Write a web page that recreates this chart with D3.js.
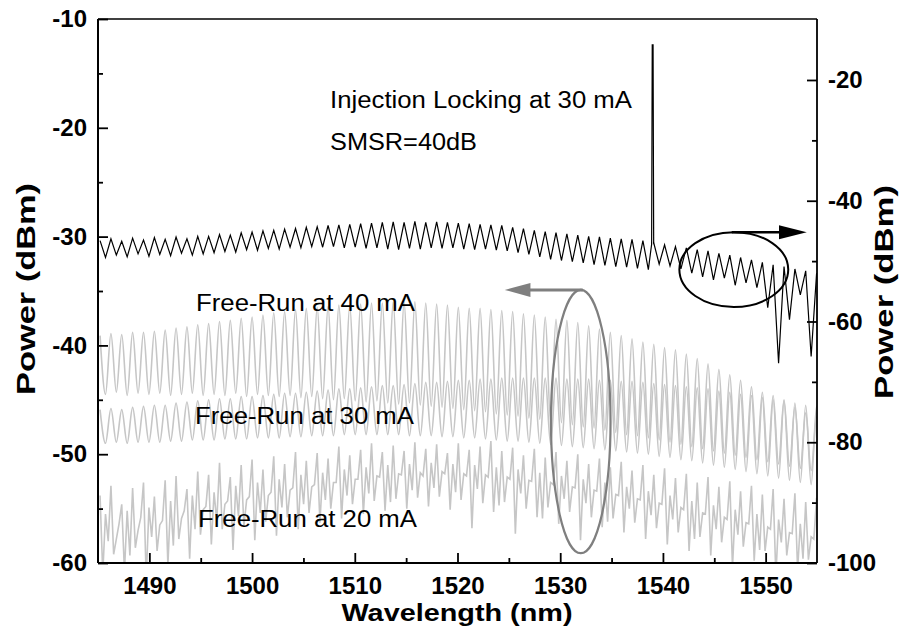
<!DOCTYPE html>
<html>
<head>
<meta charset="utf-8">
<script src="https://cdn.jsdelivr.net/npm/d3@7"></script>
<style>
  body { margin: 0; background: #fff; }
  svg text { font-family: "Liberation Sans", Arial, sans-serif; }
</style>
</head>
<body>
<svg id="chart" width="900" height="630"></svg>
<script>
// mode wavelengths of the FP laser (nm)
const modeWl = [1485.20, 1486.26, 1487.31, 1488.37, 1489.43, 1490.49, 1491.54, 1492.60, 1493.66, 1494.71,
    1495.77, 1496.83, 1497.88, 1498.94, 1500.00, 1501.06, 1502.11, 1503.17, 1504.23, 1505.28,
    1506.34, 1507.40, 1508.45, 1509.51, 1510.57, 1511.63, 1512.68, 1513.74, 1514.80, 1515.85,
    1516.91, 1517.97, 1519.02, 1520.08, 1521.14, 1522.20, 1523.25, 1524.31, 1525.37, 1526.42,
    1527.48, 1528.54, 1529.59, 1530.65, 1531.71, 1532.77, 1533.82, 1534.88, 1535.94, 1536.99,
    1538.05, 1539.11, 1540.16, 1541.22, 1542.28, 1543.34, 1544.39, 1545.45, 1546.51, 1547.56,
    1548.62, 1549.68, 1550.73, 1551.79, 1552.85, 1553.90, 1554.96];

// free-run 40 mA (left axis, dBm)
const fr40Peak = [-39.1, -38.9, -39.0, -38.8, -38.8, -38.7, -38.6, -38.4, -38.3, -38.1,
    -38.0, -37.8, -37.7, -37.5, -37.4, -37.2, -37.0, -36.9, -36.7, -36.6,
    -36.5, -36.4, -36.3, -36.3, -36.2, -36.1, -36.1, -36.0, -36.0, -36.0,
    -36.1, -36.2, -36.3, -36.5, -36.6, -36.6, -36.7, -36.8, -36.9, -37.1,
    -37.2, -37.4, -37.6, -37.7, -37.9, -38.2, -38.5, -38.8, -39.1, -39.4,
    -39.7, -39.9, -40.2, -40.4, -40.8, -41.2, -41.7, -42.2, -42.7, -43.2,
    -43.8, -44.3, -44.6, -45.0, -45.7, -46.2, -46.6];
const fr40Valley = [-44.5, -44.3, -44.6, -44.4, -44.5, -44.4, -44.6, -44.5, -44.4, -44.6,
    -44.5, -44.6, -44.4, -44.7, -44.5, -44.6, -44.7, -44.6, -44.8, -44.7,
    -44.9, -45.0, -44.9, -45.1, -45.2, -45.1, -45.3, -45.4, -45.3, -45.5,
    -45.6, -45.7, -45.8, -45.9, -46.0, -46.1, -46.3, -46.4, -46.5, -46.7,
    -46.8, -47.0, -47.1, -47.3, -47.5, -47.6, -47.8, -48.0, -48.2, -48.3,
    -48.5, -48.7, -48.9, -49.1, -49.3, -49.5, -49.7, -49.9, -50.1, -50.3,
    -50.5, -50.7, -50.9, -51.1, -51.3, -51.5, -51.7];

// free-run 30 mA (left axis, dBm)
const fr30Peak = [-45.9, -45.8, -45.9, -45.7, -45.6, -45.5, -45.5, -45.3, -45.2, -45.1,
    -45.0, -44.9, -44.9, -44.7, -44.7, -44.6, -44.5, -44.4, -44.4, -44.3,
    -44.2, -44.1, -44.0, -44.0, -43.9, -43.8, -43.7, -43.7, -43.6, -43.5,
    -43.4, -43.4, -43.3, -43.2, -43.2, -43.1, -43.1, -43.0, -43.0, -43.0,
    -43.0, -43.0, -43.0, -43.1, -43.1, -43.1, -43.2, -43.2, -43.3, -43.3,
    -43.4, -43.5, -43.6, -43.7, -43.8, -43.9, -44.0, -44.2, -44.3, -44.5,
    -44.6, -44.8, -45.0, -45.1, -45.3, -45.5, -45.6];
const fr30Valley = [-49.0, -48.9, -49.0, -48.9, -48.9, -48.9, -48.8, -48.8, -48.7, -48.7,
    -48.7, -48.6, -48.6, -48.6, -48.5, -48.5, -48.5, -48.4, -48.4, -48.3,
    -48.3, -48.3, -48.2, -48.2, -48.2, -48.2, -48.2, -48.2, -48.3, -48.3,
    -48.3, -48.4, -48.4, -48.5, -48.5, -48.6, -48.7, -48.8, -48.8, -48.9,
    -49.0, -49.1, -49.2, -49.3, -49.4, -49.5, -49.6, -49.7, -49.8, -49.9,
    -50.0, -50.2, -50.3, -50.5, -50.6, -50.8, -51.0, -51.2, -51.4, -51.6,
    -51.8, -52.0, -52.2, -52.4, -52.6, -52.8, -53.0];

// free-run 20 mA (left axis, dBm): noisy, four samples inside each mode
const fr20Peak = [-53.8, -52.9, -54.6, -53.1, -52.6, -53.9, -52.4, -52.0, -53.2, -51.6,
    -51.9, -50.8, -52.1, -51.0, -50.5, -51.4, -50.2, -50.9, -49.8, -50.6,
    -49.9, -50.4, -49.3, -50.1, -49.6, -49.0, -49.8, -49.2, -49.7, -48.9,
    -49.5, -49.1, -49.9, -49.0, -49.6, -49.3, -48.8, -49.7, -49.4, -50.1,
    -49.5, -50.3, -49.8, -50.6, -50.0, -50.9, -50.4, -51.2, -50.7, -51.5,
    -51.0, -51.9, -51.3, -52.2, -51.8, -52.6, -52.1, -53.0, -52.5, -53.4,
    -52.9, -53.7, -53.2, -54.1, -53.6, -54.4, -54.0];
const fr20Dip = [-61.0, -59.2, -60.8, -58.6, -61.5, -58.9, -60.2, -57.8, -59.6, -57.4,
    -58.3, -56.9, -58.8, -56.6, -57.9, -56.2, -57.5, -55.8, -56.9, -55.4,
    -56.3, -55.0, -55.9, -54.6, -55.5, -54.3, -55.2, -54.1, -55.0, -54.0,
    -54.8, -53.9, -55.1, -54.2, -56.8, -54.5, -55.3, -54.4, -57.3, -55.0,
    -55.8, -54.9, -56.4, -55.3, -57.9, -55.8, -56.7, -55.9, -57.2, -56.3,
    -57.8, -56.8, -58.3, -57.2, -58.9, -57.6, -59.3, -58.1, -60.4, -58.5,
    -59.8, -58.9, -61.2, -59.3, -60.6, -59.7, -61.0];
const fr20Bump = [-55.5, -57.8, -55.2, -57.0, -54.9, -56.5, -54.3, -55.9, -53.8, -55.1,
    -53.5, -54.6, -52.9, -54.2, -52.6, -53.8, -52.3, -53.3, -51.9, -53.0,
    -51.7, -52.6, -51.4, -52.3, -51.2, -52.0, -51.0, -51.8, -50.9, -51.7,
    -50.8, -51.6, -50.9, -51.8, -51.0, -51.9, -51.2, -52.1, -51.4, -52.4,
    -51.7, -52.6, -52.0, -53.0, -52.3, -53.3, -52.6, -53.7, -53.0, -54.1,
    -53.4, -54.5, -53.8, -54.9, -54.3, -55.4, -54.7, -55.8, -55.1, -56.3,
    -55.5, -56.7, -56.0, -57.2, -56.4, -57.6, -56.9];
const fr20Dip2 = [-58.0, -56.4, -59.3, -55.8, -57.6, -56.1, -58.4, -55.2, -56.9, -54.8,
    -56.2, -54.3, -55.7, -53.9, -55.4, -53.5, -54.9, -53.1, -54.6, -52.8,
    -54.2, -52.6, -53.8, -52.3, -53.6, -52.1, -54.4, -51.9, -53.3, -52.0,
    -53.1, -51.8, -53.5, -52.0, -53.2, -52.1, -54.7, -52.3, -53.6, -52.5,
    -55.9, -52.8, -54.1, -53.1, -54.5, -53.4, -56.2, -53.8, -55.0, -54.2,
    -55.6, -54.6, -56.0, -55.1, -57.8, -55.5, -56.9, -56.0, -57.4, -56.4,
    -58.8, -56.9, -58.1, -57.3, -59.6, -57.8, -58.4];

// injection locking at 30 mA (right axis, dBm)
const ilPeak = [-46.6, -46.3, -46.7, -46.2, -46.5, -46.1, -46.4, -46.0, -46.3, -45.9,
    -45.9, -45.6, -45.7, -45.3, -45.2, -45.0, -44.9, -44.7, -44.6, -44.4,
    -44.3, -44.1, -44.0, -43.9, -43.8, -43.7, -43.6, -43.5, -43.6, -43.4,
    -43.6, -43.5, -43.6, -43.7, -43.8, -43.9, -44.0, -44.1, -44.4, -44.6,
    -44.9, -45.1, -45.3, -45.5, -45.7, -45.9, -46.0, -46.2, -46.3, -46.4,
    -46.6, -47.0, -47.3, -47.6, -47.8, -48.1, -48.3, -48.7, -49.0, -49.4,
    -49.8, -50.2, -50.6, -50.9, -51.3, -51.6, -52.0];
const ilValley = [-49.4, -49.0, -49.3, -48.8, -49.2, -48.9, -49.1, -48.7, -49.0, -48.8,
    -48.6, -48.4, -48.5, -48.1, -48.2, -47.9, -48.0, -47.7, -47.8, -47.6,
    -47.7, -47.6, -47.8, -47.7, -47.9, -47.8, -48.0, -48.1, -47.9, -48.0,
    -47.8, -47.9, -47.8, -48.0, -48.1, -48.0, -48.2, -48.3, -48.6, -48.9,
    -49.3, -49.7, -49.9, -50.1, -50.3, -50.6, -50.7, -50.9, -51.0, -51.2,
    -51.4, -50.5, -50.8, -51.3, -52.0, -52.6, -53.1, -52.8, -54.0, -53.6,
    -54.4, -57.7, -66.9, -59.7, -55.6, -65.8, -56.5];
// locked mode (SMSR = 40 dB)
const spikeWl = [1538.90, 1538.96, 1539.04, 1539.10];
const spikeVal = [-47.2, -14.2, -14.2, -47.2];

const xTicks = [1490, 1500, 1510, 1520, 1530, 1540, 1550];
const xMinor = [1495, 1505, 1515, 1525, 1535, 1545];
const yLeftTicks = [-60, -50, -40, -30, -20, -10];
const yLeftMinor = [-55, -45, -35, -25, -15];
const yRightTicks = [-100, -80, -60, -40, -20];
const yRightMinor = [-90, -70, -50, -30];

const width = 900, height = 630;
const margin = { top: 19, right: 83, bottom: 67, left: 98 };

const x = d3.scaleLinear().domain([1485, 1555]).range([margin.left, width - margin.right]);
const yL = d3.scaleLinear().domain([-60, -10]).range([height - margin.bottom, margin.top]);
const yR = d3.scaleLinear().domain([-100, -9.9]).range([height - margin.bottom, margin.top]);

const svg = d3.select('#chart');

svg.append('defs').append('clipPath')
    .attr('id', 'plot-clip')
    .append('rect')
    .attr('x', margin.left)
    .attr('y', margin.top)
    .attr('width', width - margin.left - margin.right)
    .attr('height', height - margin.top - margin.bottom);

function step(i) {
    return i < modeWl.length - 1 ? modeWl[i + 1] - modeWl[i] : modeWl[i] - modeWl[i - 1];
}

// peak on the mode, valley half way to the next mode
function fringe(peaks, valleys) {
    let pts = [];
    modeWl.forEach((wl, i) => {
        pts.push([wl, peaks[i]]);
        pts.push([wl + step(i) / 2, valleys[i]]);
    });
    return pts;
}

let fr20 = [];
modeWl.forEach((wl, i) => {
    fr20.push([wl, fr20Peak[i]]);
    fr20.push([wl + step(i) / 4, fr20Dip[i]]);
    fr20.push([wl + step(i) / 2, fr20Bump[i]]);
    fr20.push([wl + step(i) * 3 / 4, fr20Dip2[i]]);
});

let il = fringe(ilPeak, ilValley)
    .concat(spikeWl.map((d, i) => [d, spikeVal[i]]))
    .sort((a, b) => a[0] - b[0]);

let plot = svg.append('g').attr('clip-path', 'url(#plot-clip)');

let lineL = d3.line().x(d => x(d[0])).y(d => yL(d[1]));
let smoothL = d3.line().x(d => x(d[0])).y(d => yL(d[1])).curve(d3.curveMonotoneX);
let lineR = d3.line().x(d => x(d[0])).y(d => yR(d[1]));

const gray = '#c6c6c6';

plot.append('path')
    .attr('d', lineL(fr20))
    .attr('fill', 'none')
    .attr('stroke', gray)
    .attr('stroke-width', 1.6);

plot.append('path')
    .attr('d', smoothL(fringe(fr30Peak, fr30Valley)))
    .attr('fill', 'none')
    .attr('stroke', gray)
    .attr('stroke-width', 1.6);

plot.append('path')
    .attr('d', smoothL(fringe(fr40Peak, fr40Valley)))
    .attr('fill', 'none')
    .attr('stroke', gray)
    .attr('stroke-width', 1.6);

plot.append('path')
    .attr('d', lineR(il))
    .attr('fill', 'none')
    .attr('stroke', '#000')
    .attr('stroke-width', 1.2);

// ellipses + arrows telling which axis each group uses
let grayCx = 1532.0, grayCy = -47.0;
svg.append('ellipse')
    .attr('cx', x(grayCx))
    .attr('cy', yL(grayCy))
    .attr('rx', x(grayCx + 2.9) - x(grayCx))
    .attr('ry', yL(grayCy) - yL(grayCy + 12.1))
    .attr('fill', 'none')
    .attr('stroke', '#7f7f7f')
    .attr('stroke-width', 2.2);

let arrowGrayY = yL(grayCy + 12.1);
svg.append('line')
    .attr('x1', x(grayCx + 0.2)).attr('y1', arrowGrayY)
    .attr('x2', x(1527.0)).attr('y2', arrowGrayY)
    .attr('stroke', '#7f7f7f')
    .attr('stroke-width', 3);
svg.append('path')
    .attr('d', `M${x(1524.6)},${arrowGrayY} L${x(1527.1)},${arrowGrayY - 7} L${x(1527.1)},${arrowGrayY + 7} Z`)
    .attr('fill', '#7f7f7f');

let blackCx = 1546.9, blackCy = -51.4;
svg.append('ellipse')
    .attr('cx', x(blackCx))
    .attr('cy', yR(blackCy))
    .attr('rx', x(blackCx + 5.3) - x(blackCx))
    .attr('ry', yR(blackCy) - yR(blackCy + 6.2))
    .attr('fill', 'none')
    .attr('stroke', '#000')
    .attr('stroke-width', 2);

let arrowBlackY = yR(blackCy + 6.2);
svg.append('line')
    .attr('x1', x(1546.7)).attr('y1', arrowBlackY)
    .attr('x2', x(1551.5)).attr('y2', arrowBlackY)
    .attr('stroke', '#000')
    .attr('stroke-width', 2.5);
svg.append('path')
    .attr('d', `M${x(1554.0)},${arrowBlackY} L${x(1551.3)},${arrowBlackY - 7} L${x(1551.3)},${arrowBlackY + 7} Z`)
    .attr('fill', '#000');

// annotations
let notes = [
    { text: 'Injection Locking at 30 mA', x: 330, y: 108, len: 302 },
    { text: 'SMSR=40dB', x: 330, y: 150, len: 147 },
    { text: 'Free-Run at 40 mA', x: 196, y: 311, len: 219 },
    { text: 'Free-Run at 30 mA', x: 195, y: 424, len: 219 },
    { text: 'Free-Run at 20 mA', x: 198, y: 527, len: 219 }
];
svg.selectAll('.note')
    .data(notes)
    .enter()
    .append('text')
    .classed('note', true)
    .attr('x', d => d.x)
    .attr('y', d => d.y)
    .attr('textLength', d => d.len)
    .attr('lengthAdjust', 'spacingAndGlyphs')
    .attr('font-size', 23)
    .attr('fill', '#000')
    .text(d => d.text);

// axes, ticks pointing inwards
let bottom = height - margin.bottom, right = width - margin.right;

function styleAxis(g) {
    g.select('.domain').remove();
    g.selectAll('.tick line').attr('stroke', '#000').attr('stroke-width', 1.8);
    g.selectAll('.tick text')
        .attr('font-size', 24)
        .attr('font-weight', 'bold')
        .attr('fill', '#000')
        .style('font-family', '"Liberation Sans", Arial, sans-serif');
}

const plain = d => String(d);

svg.append('g')
    .attr('transform', `translate(0,${bottom})`)
    .call(d3.axisBottom(x).tickValues(xTicks).tickFormat(plain).tickSizeInner(-10).tickSizeOuter(0).tickPadding(14))
    .call(styleAxis);
svg.append('g')
    .attr('transform', `translate(0,${bottom})`)
    .call(d3.axisBottom(x).tickValues(xMinor).tickFormat('').tickSizeInner(-5).tickSizeOuter(0))
    .call(styleAxis);

svg.append('g')
    .attr('transform', `translate(${margin.left},0)`)
    .call(d3.axisLeft(yL).tickValues(yLeftTicks).tickFormat(plain).tickSizeInner(-10).tickSizeOuter(0).tickPadding(11))
    .call(styleAxis);
svg.append('g')
    .attr('transform', `translate(${margin.left},0)`)
    .call(d3.axisLeft(yL).tickValues(yLeftMinor).tickFormat('').tickSizeInner(-5).tickSizeOuter(0))
    .call(styleAxis);

svg.append('g')
    .attr('transform', `translate(${right},0)`)
    .call(d3.axisRight(yR).tickValues(yRightTicks).tickFormat(plain).tickSizeInner(-10).tickSizeOuter(0).tickPadding(11))
    .call(styleAxis);
svg.append('g')
    .attr('transform', `translate(${right},0)`)
    .call(d3.axisRight(yR).tickValues(yRightMinor).tickFormat('').tickSizeInner(-5).tickSizeOuter(0))
    .call(styleAxis);

// frame
svg.append('line').attr('x1', margin.left).attr('x2', right).attr('y1', margin.top).attr('y2', margin.top)
    .attr('stroke', '#000').attr('stroke-width', 1.4);
svg.append('line').attr('x1', margin.left).attr('x2', right).attr('y1', bottom).attr('y2', bottom)
    .attr('stroke', '#000').attr('stroke-width', 2.2);
svg.append('line').attr('x1', margin.left).attr('x2', margin.left).attr('y1', margin.top).attr('y2', bottom)
    .attr('stroke', '#000').attr('stroke-width', 2);
svg.append('line').attr('x1', right).attr('x2', right).attr('y1', margin.top).attr('y2', bottom)
    .attr('stroke', '#000').attr('stroke-width', 1.8);

// axis titles
svg.append('text')
    .attr('x', 457)
    .attr('y', 621)
    .attr('text-anchor', 'middle')
    .attr('textLength', 231)
    .attr('lengthAdjust', 'spacingAndGlyphs')
    .attr('font-size', 24)
    .attr('font-weight', 'bold')
    .text('Wavelength (nm)');

svg.append('text')
    .attr('transform', 'translate(35,289) rotate(-90)')
    .attr('text-anchor', 'middle')
    .attr('textLength', 212)
    .attr('lengthAdjust', 'spacingAndGlyphs')
    .attr('font-size', 25)
    .attr('font-weight', 'bold')
    .text('Power (dBm)');

svg.append('text')
    .attr('transform', 'translate(893,292) rotate(-90)')
    .attr('text-anchor', 'middle')
    .attr('textLength', 214)
    .attr('lengthAdjust', 'spacingAndGlyphs')
    .attr('font-size', 25)
    .attr('font-weight', 'bold')
    .text('Power (dBm)');
</script>
</body>
</html>
